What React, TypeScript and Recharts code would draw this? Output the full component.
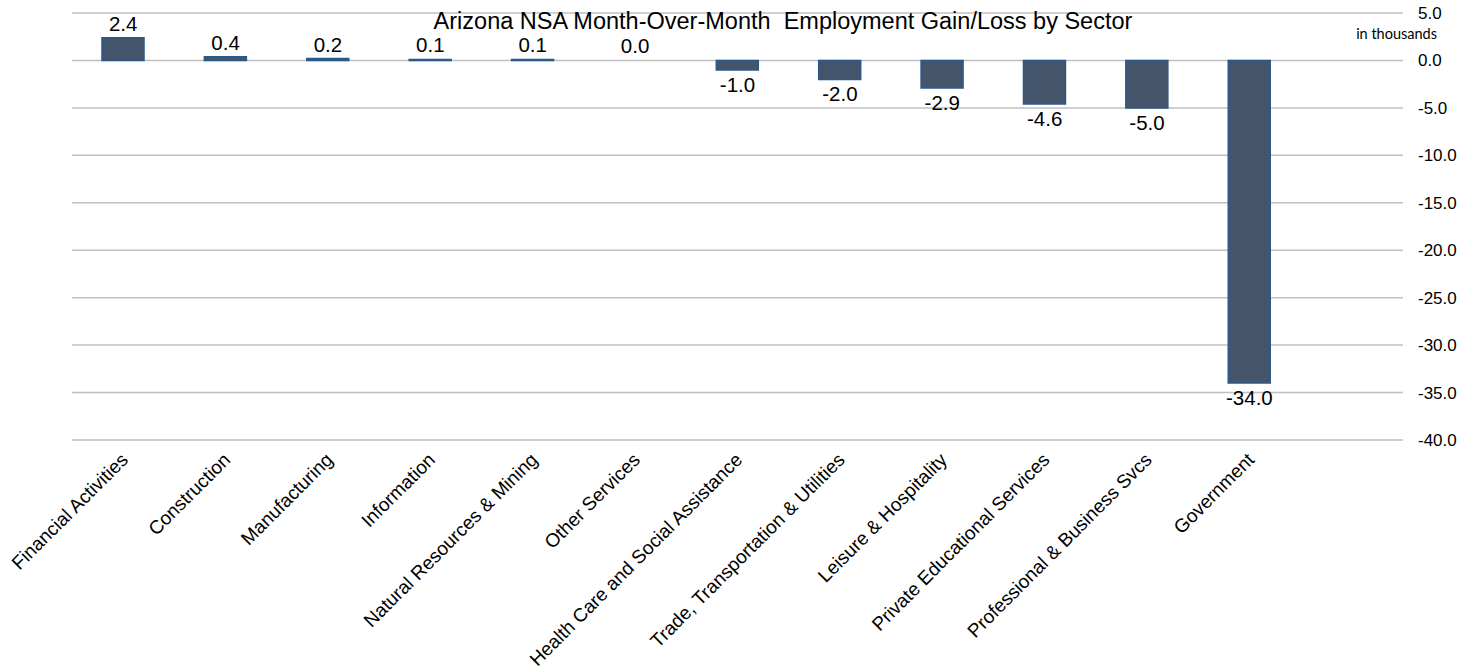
import React from "react";
import { ComposedChart, Bar, Line, XAxis, YAxis, CartesianGrid, LabelList } from "recharts";

// sectors in chart order; last slot is an empty category Excel leaves on the right
const SECTORS = [
  "Financial Activities",
  "Construction",
  "Manufacturing",
  "Information",
  "Natural Resources & Mining",
  "Other Services",
  "Health Care and Social Assistance",
  "Trade, Transportation & Utilities",
  "Leisure & Hospitality",
  "Private Educational Services",
  "Professional & Business Svcs",
  "Government",
  "",
];
const CHANGE = [2.4, 0.4, 0.2, 0.1, 0.1, 0.0, -1.0, -2.0, -2.9, -4.6, -5.0, -34.0, null];
const Y_TICKS = [5, 0, -5, -10, -15, -20, -25, -30, -35, -40];

const data = SECTORS.map((name, i) => ({ name, value: CHANGE[i] }));

const FONT = "Arial, 'Liberation Sans', sans-serif";

const SectorTick = ({ x, y, payload }: any) => {
  if (!payload.value) return null;
  const ax = x + 6;
  const ay = y + 13;
  return (
    <text
      x={ax}
      y={ay}
      transform={`rotate(-45, ${ax}, ${ay})`}
      textAnchor="end"
      fontSize={19}
      fontFamily={FONT}
      fill="#000"
    >
      {payload.value}
    </text>
  );
};

// label sits at the end of each bar (the line point), above for gains, below for losses
const ValueLabel = ({ x, y, value }: any) => {
  if (value === null || value === undefined) return null;
  const ty = value >= 0 ? y - 7 : y + 22;
  return (
    <text x={x} y={ty} textAnchor="middle" fontSize={20.5} fontFamily={FONT} fill="#000">
      {Number(value).toFixed(1)}
    </text>
  );
};

export default function App() {
  return (
    <div style={{ position: "absolute", left: 0, top: 0, width: 1473, height: 672, background: "#fff" }}>
      <ComposedChart
        width={1473}
        height={672}
        data={data}
        margin={{ top: 13, right: 0, left: 72, bottom: 0 }}
        barSize={42}
      >
        <CartesianGrid vertical={false} stroke="#c0c0c0" strokeWidth={1.5} />
        <XAxis
          dataKey="name"
          interval={0}
          height={232}
          axisLine={false}
          tickLine={false}
          tick={<SectorTick />}
        />
        <YAxis
          orientation="right"
          width={70}
          domain={[-40, 5]}
          ticks={Y_TICKS}
          axisLine={false}
          tickLine={false}
          tickSize={0}
          tickMargin={15}
          tickFormatter={(v: number) => v.toFixed(1)}
          tick={{ fill: "#000", fontSize: 17, fontFamily: FONT }}
        />
        <Bar dataKey="value" fill="#44546a" stroke="#2a5a8a" strokeWidth={1.5} isAnimationActive={false} />
        <Line
          dataKey="value"
          stroke="none"
          dot={false}
          activeDot={false}
          connectNulls={false}
          isAnimationActive={false}
        >
          <LabelList dataKey="value" content={<ValueLabel />} />
        </Line>
        <text
          x={783}
          y={29}
          textAnchor="middle"
          fontSize={23.5}
          fontFamily={FONT}
          fill="#000"
          style={{ whiteSpace: "pre" }}
        >
          Arizona NSA Month-Over-Month  Employment Gain/Loss by Sector
        </text>
        <text x={1437} y={39} textAnchor="end" fontSize={14.5} fontFamily="Lato, 'Open Sans', sans-serif" fill="#000">
          in thousands
        </text>
      </ComposedChart>
    </div>
  );
}
